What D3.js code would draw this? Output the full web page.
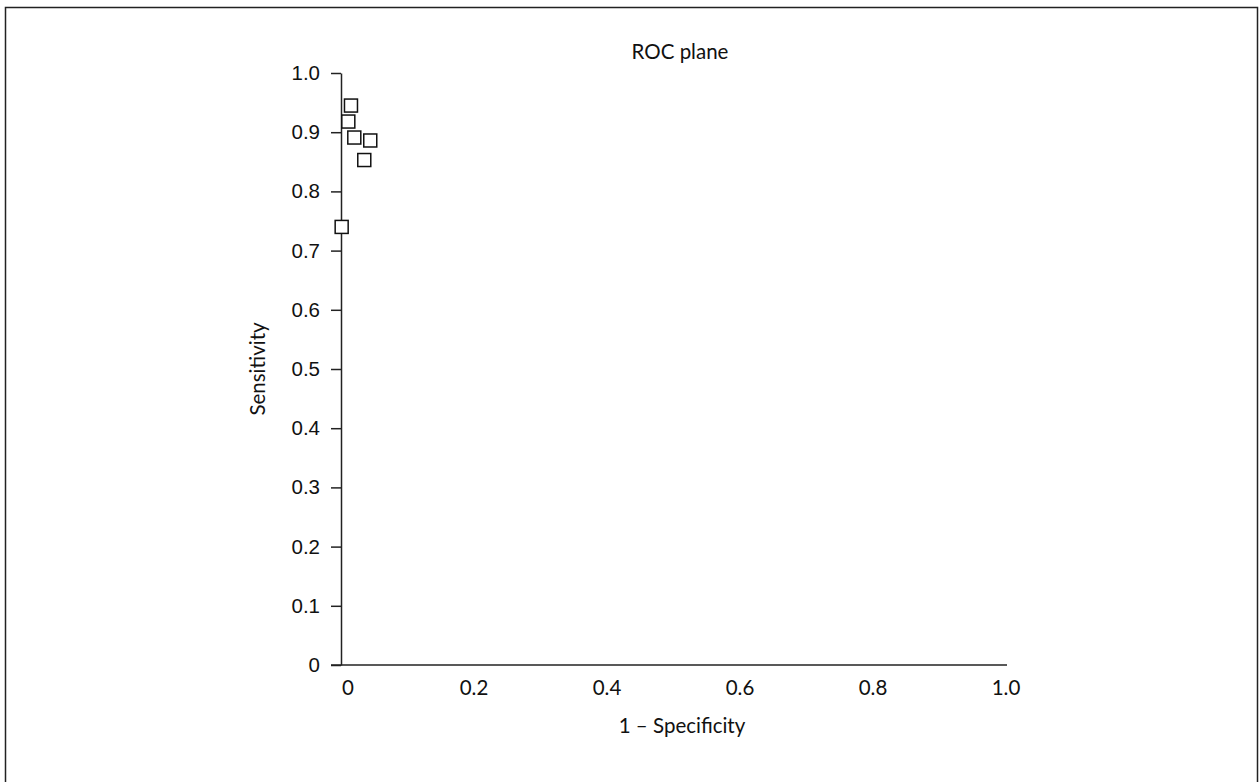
<!DOCTYPE html>
<html>
<head>
<meta charset="utf-8">
<script src="https://cdn.jsdelivr.net/npm/d3@7"></script>
<style>
  html, body { margin: 0; padding: 0; background: #fff; }
  svg { display: block; font-family: Lato, "Open Sans", sans-serif; }
</style>
</head>
<body>
<svg id="chart" width="1259" height="782"></svg>
<script>
// Study estimates plotted in ROC space
const falsePositiveRate = [0.015, 0.011, 0.020, 0.044, 0.035, 0.001];
const sensitivity       = [0.945, 0.918, 0.891, 0.886, 0.853, 0.740];

const xTickValues = [0, 0.2, 0.4, 0.6, 0.8, 1.0];
const xTickLabels = ["0", "0.2", "0.4", "0.6", "0.8", "1.0"];
const yTickValues = [0, 0.1, 0.2, 0.3, 0.4, 0.5, 0.6, 0.7, 0.8, 0.9, 1.0];
const yTickLabels = ["0", "0.1", "0.2", "0.3", "0.4", "0.5", "0.6", "0.7", "0.8", "0.9", "1.0"];

const titleText = "ROC plane";
const xTitle = "1 \u2013 Specificity";
const yTitle = "Sensitivity";

const svg = d3.select("#chart");
const fontSize = "20.5px";

// outer frame
svg.append("rect")
  .attr("x", 5.5).attr("y", 7.5)
  .attr("width", 1252).attr("height", 800)
  .attr("fill", "none").attr("stroke", "#222").attr("stroke-width", 1.5);

const x = d3.scaleLinear().domain([0, 1]).range([341, 1006]);
const y = d3.scaleLinear().domain([0, 1]).range([665, 73]);

const ink = "#222";

// y axis: ticks point left, labels right-aligned
const yAxis = d3.axisLeft(y)
  .tickValues(yTickValues)
  .tickFormat((d, i) => yTickLabels[i])
  .tickSize(10)
  .tickPadding(11)
  .tickSizeOuter(0);

const gy = svg.append("g").attr("transform", `translate(${x(0)},0)`).call(yAxis);
gy.select(".domain").attr("stroke", ink).attr("stroke-width", 1.5);
gy.selectAll(".tick line").attr("stroke", ink).attr("stroke-width", 1.5);
gy.selectAll(".tick text").attr("fill", "#111").style("font-size", fontSize);

// x axis: baseline only, no tick marks
const gx = svg.append("g").attr("transform", `translate(0,${y(0)})`);
gx.append("line")
  .attr("x1", x(0) - 10).attr("x2", x(1) + 1)
  .attr("y1", 0).attr("y2", 0)
  .attr("stroke", ink).attr("stroke-width", 1.5);
gx.selectAll("text.xt")
  .data(xTickValues)
  .join("text")
  .attr("class", "xt")
  .attr("x", (d, i) => x(d) + (i === 0 ? 7 : 0))
  .attr("y", 30)
  .attr("text-anchor", "middle")
  .attr("fill", "#111")
  .style("font-size", fontSize)
  .text((d, i) => xTickLabels[i]);

// titles
svg.append("text")
  .attr("x", 680).attr("y", 59)
  .attr("text-anchor", "middle")
  .attr("fill", "#111")
  .style("font-size", fontSize)
  .text(titleText);

svg.append("text")
  .attr("x", 682).attr("y", 733)
  .attr("text-anchor", "middle")
  .attr("fill", "#111")
  .style("font-size", fontSize)
  .text(xTitle);

svg.append("text")
  .attr("transform", `translate(265,${y(0.5)}) rotate(-90)`)
  .attr("text-anchor", "middle")
  .attr("fill", "#111")
  .style("font-size", fontSize)
  .text(yTitle);

// open square markers
const size = 13;
svg.append("g")
  .selectAll("rect")
  .data(falsePositiveRate.map((f, i) => ({ f, s: sensitivity[i] })))
  .join("rect")
  .attr("x", d => x(d.f) - size / 2)
  .attr("y", d => y(d.s) - size / 2)
  .attr("width", size).attr("height", size)
  .attr("fill", "#fff")
  .attr("stroke", "#111")
  .attr("stroke-width", 1.5);
</script>
</body>
</html>
